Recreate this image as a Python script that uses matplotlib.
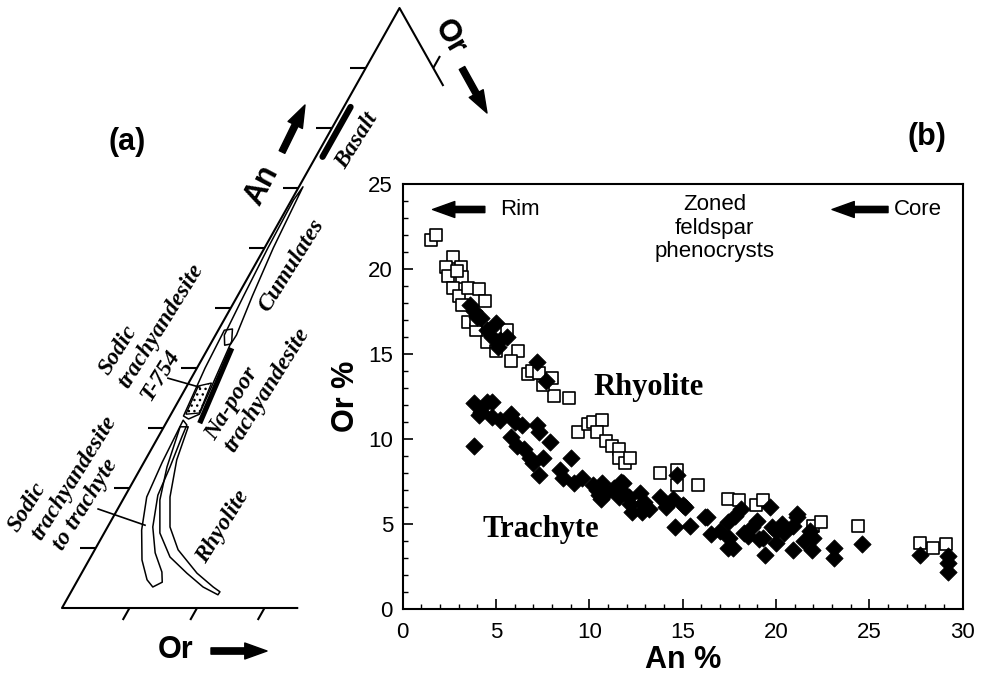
import numpy as np
import matplotlib.pyplot as plt
from matplotlib.patches import Polygon, FancyArrowPatch
from matplotlib.ticker import MultipleLocator

# ---- panel (b) data: An %, Or % of zoned feldspar phenocrysts ----
rhy_an = [1.5, 1.8, 2.7, 2.3, 2.4, 3.1, 3.2, 2.7, 3.0, 3.5, 4.1, 4.4, 3.2, 3.5, 3.9,
          4.5, 5.6, 6.2, 5.8, 6.7, 8.0, 8.1, 8.9, 7.5, 2.9, 3.9, 5.0, 6.9, 7.3,
          9.4, 9.9, 10.2, 10.7, 10.4, 10.9, 11.2, 11.6, 11.6, 11.9, 12.2,
          13.8, 14.7, 14.7, 15.8, 17.4, 18.0, 18.9, 19.3,
          22.0, 22.4, 24.4, 27.7, 28.4, 29.1]
rhy_or = [21.7, 22.0, 20.7, 20.1, 19.6, 20.1, 19.5, 18.9, 18.4, 18.9, 18.8, 18.1, 17.9, 16.9, 16.4,
          15.7, 16.4, 15.2, 14.6, 13.8, 13.6, 12.5, 12.4, 13.2, 19.9, 17.0, 15.2, 14.0, 13.9,
          10.4, 10.9, 11.0, 11.1, 10.4, 9.9, 9.6, 9.4, 8.9, 8.6, 8.9,
          8.0, 8.2, 7.3, 7.3, 6.5, 6.4, 6.1, 6.4,
          4.9, 5.1, 4.9, 3.9, 3.6, 3.8]

tra_an = [3.6, 3.8, 4.2, 4.5, 5.0, 5.2, 5.6, 5.1, 7.2, 7.7, 4.0, 4.8,
          3.8, 4.2, 4.5, 4.8, 4.1, 4.8, 5.2, 5.8, 6.0, 6.4, 7.2, 7.3, 7.9, 3.8, 5.8, 6.1,
          6.5, 6.8, 7.0, 7.5, 7.3, 8.4, 8.6, 9.0, 9.2, 9.6, 10.4, 10.6, 10.9, 11.3, 11.8,
          11.6, 12.2, 12.3, 12.8, 10.2, 10.7, 10.5, 11.7, 11.8, 12.1, 12.7, 12.9, 12.8,
          13.2, 13.8, 14.1, 14.5, 14.7, 15.1, 14.6, 15.4, 16.2, 16.5, 17.0, 17.4, 17.5,
          17.8, 18.1, 17.7, 18.3, 18.7, 19.0, 19.1, 19.4, 19.7, 20.0, 19.3, 19.8, 20.0,
          20.4, 20.9, 21.1, 20.9, 21.8, 22.0, 21.9, 23.1, 23.1, 24.6, 27.7, 29.2, 29.2,
          29.2, 15.0, 16.3, 17.4, 21.1, 18.5, 20.3, 21.5]
tra_or = [17.9, 17.5, 17.1, 16.4, 16.8, 15.8, 16.0, 15.4, 14.5, 13.4, 17.2, 16.0,
          12.1, 11.6, 12.2, 12.2, 11.4, 11.3, 11.1, 11.5, 11.0, 10.8, 10.8, 10.4, 9.8, 9.6, 10.1, 9.6,
          9.4, 8.9, 8.6, 8.9, 7.9, 8.2, 7.7, 8.9, 7.4, 7.7, 7.0, 6.5, 6.8, 7.1, 7.4,
          6.6, 6.2, 5.7, 6.2, 7.3, 7.4, 6.7, 7.5, 6.9, 6.6, 6.8, 6.3, 5.7,
          5.9, 6.6, 6.0, 6.5, 7.9, 6.0, 4.8, 4.9, 5.4, 4.4, 4.6, 5.1, 4.2,
          5.5, 5.9, 3.6, 4.5, 4.8, 5.2, 4.1, 3.2, 6.0, 4.6, 4.2, 4.8, 3.9,
          4.5, 3.5, 5.4, 4.9, 4.6, 4.2, 3.5, 3.6, 3.0, 3.8, 3.2, 3.1, 2.7,
          2.2, 6.1, 5.4, 3.6, 5.6, 4.3, 5.0, 4.0]

# ---- panel (a) data: fields in the Ab-An-Or triangle (Or %, An %) ----
cum_or = [0.6, 1.3, 2.2, 3.1, 3.0, 2.2, 1.3, 0.9, 0.5, 0.3]
cum_an = [70.2, 60, 52, 45.5, 44.0, 43.8, 45.5, 52, 60, 68]
t754_or = [2.0, 1.2, 0.9, 2.0, 2.9, 4.2, 3.0]
t754_an = [32.0, 40, 46.3, 46.5, 44.5, 32.3, 31.5]
dots_or = [2.2, 4.1, 3.4, 1.7]
dots_an = [32.3, 32.5, 37.5, 37.0]
trf_or = [2.3, 2.7, 3.3, 5.3, 7.85, 10.25, 11.7, 12.7, 11.8, 9.2, 6.7, 4.8, 4.25, 3.5, 3.25]
trf_an = [31.3, 24.3, 18.5, 13.0, 8.0, 4.7, 3.5, 4.3, 6.0, 9.2, 13.5, 18.8, 23.5, 28.5, 30.5]
rhf_or = [2.4, 3.8, 5.5, 8.25, 11.75, 15.6, 19.15, 22.0, 22.05, 20.65, 17.1, 12.35, 9.25, 6.75, 4.65, 3.6]
rhf_an = [30.2, 23.5, 18.0, 12.5, 8.5, 5.8, 3.5, 2.2, 2.7, 3.5, 5.8, 9.7, 13.5, 18.5, 24.7, 30.2]
basalt_or, basalt_an = [1.0, 1.0], [83.5, 75.2]
napoor_or, napoor_an = [3.5, 5.0], [43.3, 30.8]
an_ticks = [10, 20, 30, 40, 50, 60, 70, 80, 90]
or_ticks = [10, 20, 30]

W, H = 983, 677
fig = plt.figure(figsize=(W / 100, H / 100), dpi=100)


def fp(x, y):
    # pixel position in the reference -> figure fraction
    return x / W, 1 - y / H


def tx(orr, an):
    # ternary composition -> cartesian
    orr = np.asarray(orr, float)
    an = np.asarray(an, float)
    return orr + an / 2, an


# ================= panel (a) =================
tern = fig.add_axes([62 / W, 1 - 608 / H, 675 / W, 600 / H])
tern.set_xlim(0, 100)
tern.set_ylim(0, 100)
tern.axis('off')

kw = dict(color='black', lw=1.5, clip_on=False, solid_capstyle='butt')
tern.plot(*tx([35, 0, 0, 13], [0, 0, 100, 87]), **kw)
for a in an_ticks:
    tern.plot(*tx([0, -2.3], [a, a]), **kw)
for o in or_ticks:
    tern.plot(*tx([o, o], [0, -2]), **kw)
tern.plot(*tx([10, 10], [90, 92]), **kw)

for fo, fa in [(cum_or, cum_an), (t754_or, t754_an), (trf_or, trf_an), (rhf_or, rhf_an)]:
    X, Y = tx(fo, fa)
    tern.add_patch(Polygon(np.column_stack([X, Y]), closed=True, fill=False,
                           ec='black', lw=1.1, joinstyle='round'))
X, Y = tx(dots_or, dots_an)
tern.add_patch(Polygon(np.column_stack([X, Y]), closed=True, fc='white',
                       ec='black', lw=1.0, hatch='...'))
tern.plot(*tx(basalt_or, basalt_an), color='black', lw=4.5, solid_capstyle='round')
tern.plot(*tx(napoor_or, napoor_an), color='black', lw=3.8, solid_capstyle='butt')
tern.plot(*tx([-3.45, 2.0], [38.3, 36.8]), color='black', lw=1.2, clip_on=False)
tern.plot(*tx([-2.9, 5.4], [16.5, 13.8]), color='black', lw=1.2, clip_on=False)

lab = dict(family='Liberation Serif', style='italic', weight='bold', fontsize=17,
           rotation=58, ha='center', va='center', rotation_mode='anchor')
for s, x, y in [('Basalt', 357, 141), ('Cumulates', 291, 265), ('Sodic', 118, 350),
                ('trachyandesite', 161, 326), ('T-754', 160, 375), ('Na-poor', 232, 404),
                ('trachyandesite', 267, 390), ('Sodic', 27, 507),
                ('trachyandesite', 74, 478), ('to trachyte', 85, 505), ('Rhyolite', 223, 527)]:
    fig.text(*fp(x, y), s, **lab)

big = dict(family='Liberation Sans', weight='bold', fontsize=22, ha='center', va='center',
           rotation_mode='anchor')
fig.text(*fp(127, 142), '(a)', **big)
fig.text(*fp(262, 185), 'An', rotation=62, **big)
fig.text(*fp(450, 37), 'Or', rotation=-60, **big)
fig.text(*fp(176, 650), 'Or', **big)

arrow = 'simple,head_length=1.6,head_width=1.15,tail_width=0.45'
for tail, tip in [((282, 152), (305, 105)), ((462, 68), (487, 113)), ((211, 651), (267, 651))]:
    fig.patches.append(FancyArrowPatch(fp(*tail), fp(*tip), transform=fig.transFigure,
                                       arrowstyle=arrow, mutation_scale=10, color='black',
                                       shrinkA=0, shrinkB=0))

# ================= panel (b) =================
ax = fig.add_axes([402.7 / W, 1 - 609 / H, 560 / W, 425 / H])
ax.scatter(rhy_an, rhy_or, marker='s', s=70, facecolors='white', edgecolors='black',
           linewidths=1.2, zorder=3)
ax.scatter(tra_an, tra_or, marker='D', s=78, facecolors='black', edgecolors='black',
           linewidths=0.5, zorder=4)

ax.set_xlim(0, 30)
ax.set_ylim(0, 25)
ax.xaxis.set_major_locator(MultipleLocator(5))
ax.xaxis.set_minor_locator(MultipleLocator(1))
ax.yaxis.set_major_locator(MultipleLocator(5))
ax.yaxis.set_minor_locator(MultipleLocator(1))
ax.tick_params(which='major', direction='in', length=7, width=1.2, labelsize=16)
ax.tick_params(axis='x', which='major', pad=9)
ax.tick_params(axis='y', which='major', pad=7)
ax.tick_params(which='minor', direction='in', length=3.5, width=1.0)
for lbl in ax.get_xticklabels() + ax.get_yticklabels():
    lbl.set_family('Liberation Sans')
for sp in ax.spines.values():
    sp.set_linewidth(1.5)

ax.set_xlabel('An %', family='Liberation Sans', weight='bold', fontsize=22)
ax.set_ylabel('Or %', family='Liberation Sans', weight='bold', fontsize=22)
ax.xaxis.set_label_coords(0.5, -0.085)
ax.yaxis.set_label_coords(-0.075, 0.5)

serif = dict(family='Liberation Serif', weight='bold', fontsize=22, va='center')
ax.text(10.2, 13.0, 'Rhyolite', ha='left', **serif)
ax.text(4.3, 4.65, 'Trachyte', ha='left', **serif)

sans = dict(family='Liberation Sans', fontsize=16)
ax.text(5.2, 23.5, 'Rim', ha='left', va='center', **sans)
ax.text(26.3, 23.5, 'Core', ha='left', va='center', **sans)
ax.text(16.7, 24.4, 'Zoned\nfeldspar\nphenocrysts', ha='center', va='top',
        linespacing=1.15, **sans)
for tail, tip in [((4.4, 23.5), (1.6, 23.5)), ((26.0, 23.5), (23.0, 23.5))]:
    ax.add_patch(FancyArrowPatch(tail, tip, arrowstyle=arrow, mutation_scale=10,
                                 color='black', shrinkA=0, shrinkB=0))
fig.text(*fp(927, 137), '(b)', **big)

fig.savefig('out.png', dpi=100)
